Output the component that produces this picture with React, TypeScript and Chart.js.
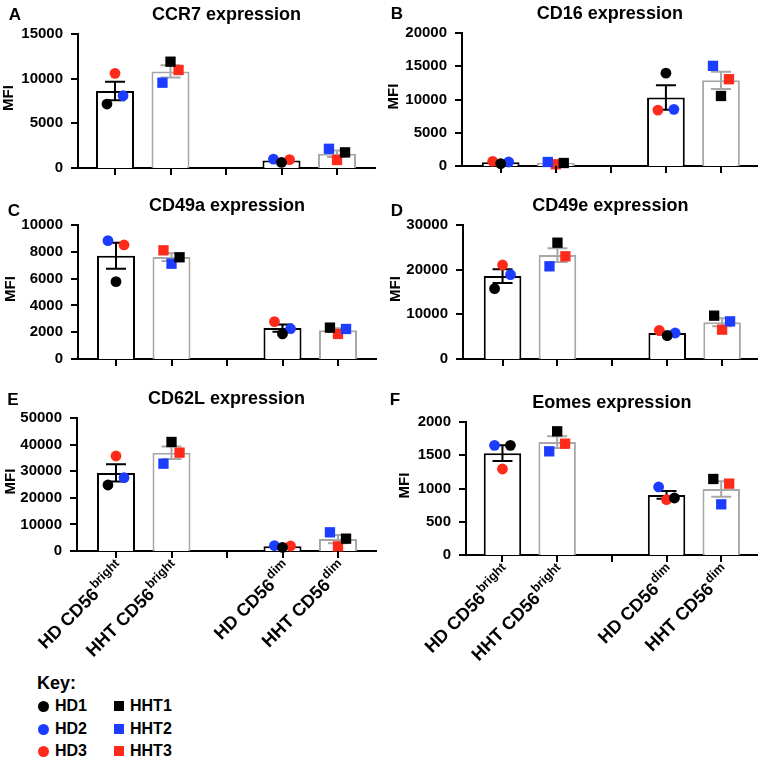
import React, { useEffect, useRef } from 'react';
import { Chart, registerables } from 'chart.js';

Chart.register(...registerables);

const FONT = '"Liberation Sans", Arial, Helvetica, sans-serif';
const BLACK = '#000000';
const BLUE = '#1c3dff';
const RED = '#ff2b1a';
const GREY = '#a8a8a8';

// x categories: slot 2 is the empty gap between the bright and dim groups
const groupLabels = ['HD CD56', 'HHT CD56', 'HD CD56', 'HHT CD56'];
const groupSuperscripts = ['bright', 'bright', 'dim', 'dim'];
const groupSlots = [0, 1, 3, 4];
const axisSlots = [0, 1, 2, 3, 4];

const hdSamples = ['HD1', 'HD2', 'HD3'];
const hhtSamples = ['HHT1', 'HHT2', 'HHT3'];
const sampleColors = [BLACK, BLUE, RED];

// values per group [HD bright, HHT bright, HD dim, HHT dim]; each = [sample 1, sample 2, sample 3]
const ccr7Values = [[7160, 8090, 10600], [11900, 9550, 10970], [620, 1000, 930], [1750, 2150, 900]];
const cd16Values = [[360, 600, 710], [450, 600, 260], [13960, 8520, 8410], [10530, 15060, 13050]];
const cd49aValues = [[5770, 8830, 8510], [7590, 7110, 8110], [1870, 2260, 2790], [2340, 2240, 1870]];
const cd49eValues = [[15750, 18880, 21040], [26040, 20750, 22990], [5220, 5820, 6420], [9700, 8430, 6570]];
const cd62lValues = [[24810, 27570, 35710], [40980, 32830, 36970], [1380, 2000, 1880], [4640, 7020, 1750]];
const eomesValues = [[1649, 1649, 1293], [1860, 1559, 1674], [857, 1023, 832], [1143, 762, 1073]];

// scatter arrangement inside each bar (-1 left, 0 centre, +1 right), per sample
const ccr7Spread = [[-1, 1, 0], [0, -1, 1], [0, -1, 1], [1, -1, 0]];
const cd16Spread = [[0, 1, -1], [1, -1, 0], [0, 1, -1], [0, -1, 1]];
const cd49aSpread = [[0, -1, 1], [1, 0, -1], [0, 1, -1], [-1, 1, 0]];
const cd49eSpread = [[-1, 1, 0], [0, -1, 1], [0, 1, -1], [-1, 1, 0]];
const cd62lSpread = [[-1, 1, 0], [0, -1, 1], [0, -1, 1], [1, -1, 0]];
const eomesSpread = [[1, -1, 0], [0, -1, 1], [1, -1, 0], [-1, 0, 1]];

const panelTitles = ['CCR7 expression', 'CD16 expression', 'CD49a expression', 'CD49e expression', 'CD62L expression', 'Eomes expression'];
const panelLetters = ['A', 'B', 'C', 'D', 'E', 'F'];
const panelYMax = [15000, 20000, 10000, 30000, 50000, 2000];
const panelYStep = [5000, 5000, 2000, 10000, 10000, 500];
const panelValues = [ccr7Values, cd16Values, cd49aValues, cd49eValues, cd62lValues, eomesValues];
const panelSpread = [ccr7Spread, cd16Spread, cd49aSpread, cd49eSpread, cd62lSpread, eomesSpread];
const yAxisTitle = 'MFI';

// layout (page pixels)
type Box = {
  cx: number; cy: number; cw: number; ch: number;
  L: number; R: number; T: number; B: number; t0: number; t4: number;
  mfiX: number; letterX: number; letterY: number; xLabels: boolean;
};
const panelBoxes: Box[] = [
  { cx: 0, cy: 0, cw: 385, ch: 190, L: 78, R: 375, T: 34, B: 168, t0: 115, t4: 337, mfiX: 9, letterX: 15, letterY: 15, xLabels: false },
  { cx: 385, cy: 0, cw: 380, ch: 190, L: 462, R: 760, T: 33, B: 166, t0: 501, t4: 723, mfiX: 394, letterX: 397, letterY: 14, xLabels: false },
  { cx: 0, cy: 190, cw: 385, ch: 190, L: 78, R: 376, T: 225, B: 359, t0: 116, t4: 338, mfiX: 11, letterX: 14, letterY: 211, xLabels: false },
  { cx: 385, cy: 190, cw: 380, ch: 190, L: 463, R: 761, T: 225, B: 359, t0: 503, t4: 725, mfiX: 396, letterX: 397, letterY: 211, xLabels: false },
  { cx: 0, cy: 380, cw: 385, ch: 285, L: 77, R: 376, T: 418, B: 551, t0: 116, t4: 338, mfiX: 11, letterX: 13, letterY: 400, xLabels: true },
  { cx: 385, cy: 380, cw: 380, ch: 285, L: 466, R: 762, T: 422, B: 555, t0: 503, t4: 725, mfiX: 405, letterX: 395, letterY: 400, xLabels: true },
];

const SPREAD = 0.145;
const CAP = 10;
const TICK = 6;

function mean(a: number[]) {
  return a.reduce((s, v) => s + v, 0) / a.length;
}
function sem(a: number[]) {
  const m = mean(a);
  const sd = Math.sqrt(a.reduce((s, v) => s + (v - m) * (v - m), 0) / (a.length - 1));
  return sd / Math.sqrt(a.length);
}

function Panel({ index }: { index: number }) {
  const ref = useRef<HTMLCanvasElement | null>(null);
  const box = panelBoxes[index];
  useEffect(() => {
    const canvas = ref.current;
    if (!canvas) return;
    const values = panelValues[index];
    const spread = panelSpread[index];
    const step = (box.t4 - box.t0) / 4;
    const xMin = -(box.t0 - box.L) / step;
    const xMax = 4 + (box.R - box.t4) / step;

    const barData = groupSlots.map((slot, g) => ({ x: slot, y: mean(values[g]) }));
    const barColors = groupSlots.map((_, g) => (g % 2 ? GREY : BLACK));

    const pointSets: any[] = [];
    [0, 1, 2].forEach((s) => {
      pointSets.push({
        type: 'scatter',
        label: hdSamples[s],
        data: [0, 2].map((g) => ({ x: groupSlots[g] + spread[g][s] * SPREAD, y: values[g][s] })),
        pointStyle: 'circle',
        pointRadius: 5.4,
        backgroundColor: sampleColors[s],
        borderColor: sampleColors[s],
        borderWidth: 0,
        clip: false,
        order: 1,
      });
      pointSets.push({
        type: 'scatter',
        label: hhtSamples[s],
        data: [1, 3].map((g) => ({ x: groupSlots[g] + spread[g][s] * SPREAD, y: values[g][s] })),
        pointStyle: 'rect',
        pointRadius: 7.3,
        backgroundColor: sampleColors[s],
        borderColor: sampleColors[s],
        borderWidth: 0,
        clip: false,
        order: 1,
      });
    });

    const errorBars = {
      id: 'errorBars' + index,
      afterDatasetDraw(chart: any, args: any) {
        if (args.meta.type !== 'bar') return;
        const ctx = chart.ctx;
        const xs = chart.scales.x;
        const ys = chart.scales.y;
        ctx.save();
        ctx.lineWidth = 2;
        groupSlots.forEach((slot, g) => {
          const m = mean(values[g]);
          const e = sem(values[g]);
          const px = xs.getPixelForValue(slot);
          const top = ys.getPixelForValue(m + e);
          const bot = ys.getPixelForValue(Math.max(0, m - e));
          ctx.strokeStyle = barColors[g];
          ctx.beginPath();
          ctx.moveTo(px, top);
          ctx.lineTo(px, bot);
          ctx.moveTo(px - CAP, top);
          ctx.lineTo(px + CAP, top);
          ctx.moveTo(px - CAP, bot);
          ctx.lineTo(px + CAP, bot);
          ctx.stroke();
        });
        ctx.restore();
      },
    };

    const decor = {
      id: 'decor' + index,
      afterDraw(chart: any) {
        const ctx = chart.ctx;
        const ca = chart.chartArea;
        const xs = chart.scales.x;
        const ys = chart.scales.y;
        ctx.save();
        // tick marks
        ctx.strokeStyle = '#000';
        ctx.lineWidth = 2;
        ctx.beginPath();
        ys.ticks.forEach((t: any) => {
          const py = Math.round(ys.getPixelForValue(t.value));
          ctx.moveTo(ca.left - TICK - 1, py);
          ctx.lineTo(ca.left, py);
        });
        axisSlots.forEach((v) => {
          const px = Math.round(xs.getPixelForValue(v));
          ctx.moveTo(px, ca.bottom);
          ctx.lineTo(px, ca.bottom + TICK + 1);
        });
        ctx.stroke();

        ctx.fillStyle = '#000';
        ctx.textBaseline = 'middle';
        ctx.textAlign = 'center';
        ctx.font = `bold 18px ${FONT}`;
        ctx.fillText(panelTitles[index], (ca.left + ca.right) / 2, ca.top - 19);
        ctx.font = `bold 17px ${FONT}`;
        ctx.fillText(panelLetters[index], box.letterX - box.cx, box.letterY - box.cy);
        ctx.save();
        ctx.translate(box.mfiX - box.cx, (ca.top + ca.bottom) / 2 - 3);
        ctx.rotate(-Math.PI / 2);
        ctx.font = `bold 15px ${FONT}`;
        ctx.fillText(yAxisTitle, 0, 0);
        ctx.restore();
        if (box.xLabels) {
          ctx.textBaseline = 'alphabetic';
          ctx.textAlign = 'right';
          groupSlots.forEach((slot, g) => {
            const px = xs.getPixelForValue(slot);
            ctx.save();
            ctx.translate(px + 4, ca.bottom + 13);
            ctx.rotate(-Math.PI / 4);
            ctx.font = `bold 12.5px ${FONT}`;
            const sw = ctx.measureText(groupSuperscripts[g]).width;
            ctx.fillText(groupSuperscripts[g], 0, 0);
            ctx.font = `bold 18px ${FONT}`;
            ctx.fillText(groupLabels[g], -sw - 1, 8);
            ctx.restore();
          });
        }
        ctx.restore();
      },
    };

    const chart = new Chart(canvas, {
      type: 'bar',
      data: {
        datasets: [
          ...pointSets,
          {
            type: 'bar',
            label: 'mean',
            data: barData,
            backgroundColor: '#ffffff',
            borderColor: barColors,
            borderWidth: 2,
            barPercentage: 0.685,
            categoryPercentage: 1,
            order: 2,
          },
        ],
      } as any,
      options: {
        animation: false,
        responsive: false,
        maintainAspectRatio: false,
        events: [],
        layout: {
          padding: { left: 0, top: box.T - box.cy, right: box.cx + box.cw - box.R, bottom: 0 },
        },
        plugins: { legend: { display: false }, tooltip: { enabled: false }, title: { display: false } },
        scales: {
          x: {
            type: 'linear',
            min: xMin,
            max: xMax,
            offset: false,
            afterBuildTicks: (s: any) => {
              s.ticks = axisSlots.map((v) => ({ value: v }));
            },
            afterFit: (s: any) => {
              s.height = box.cy + box.ch - box.B;
            },
            ticks: { display: false },
            grid: { display: false, offset: false },
            border: { display: true, color: '#000', width: 2 },
          },
          y: {
            type: 'linear',
            min: 0,
            max: panelYMax[index],
            afterFit: (s: any) => {
              s.width = box.L - box.cx;
            },
            ticks: {
              stepSize: panelYStep[index],
              callback: (v: any) => String(v),
              color: '#000',
              padding: TICK + 1,
              font: { family: FONT, size: 15, weight: 'bold' },
            },
            grid: { display: false },
            border: { display: true, color: '#000', width: 2 },
          },
        },
      } as any,
      plugins: [errorBars, decor],
    });
    return () => chart.destroy();
  }, [index]);
  return (
    <canvas
      ref={ref}
      width={box.cw}
      height={box.ch}
      style={{ position: 'absolute', left: box.cx, top: box.cy, width: box.cw, height: box.ch }}
    />
  );
}

function KeyItem({ label, color, square, x, y }: { label: string; color: string; square: boolean; x: number; y: number }) {
  const size = square ? 10 : 11;
  return (
    <div style={{ position: 'absolute', left: x, top: y - 10, height: 20, display: 'flex', alignItems: 'center' }}>
      <div style={{ width: size, height: size, background: color, borderRadius: square ? 0 : '50%' }} />
      <div style={{ marginLeft: square ? 6 : 6.5, font: `bold 16px ${FONT}`, lineHeight: '16px', color: '#000' }}>{label}</div>
    </div>
  );
}

export default function App() {
  const rowsY = [706, 729, 751];
  return (
    <div style={{ position: 'absolute', left: 0, top: 0, width: 765, height: 760, background: '#fff', overflow: 'hidden' }}>
      {panelBoxes.map((_, i) => (
        <Panel key={i} index={i} />
      ))}
      <div style={{ position: 'absolute', left: 37, top: 674, font: `bold 18px ${FONT}`, lineHeight: '18px', color: '#000' }}>Key:</div>
      {hdSamples.map((s, i) => (
        <KeyItem key={s} label={s} color={sampleColors[i]} square={false} x={37.5} y={rowsY[i]} />
      ))}
      {hhtSamples.map((s, i) => (
        <KeyItem key={s} label={s} color={sampleColors[i]} square={true} x={114} y={rowsY[i]} />
      ))}
    </div>
  );
}
